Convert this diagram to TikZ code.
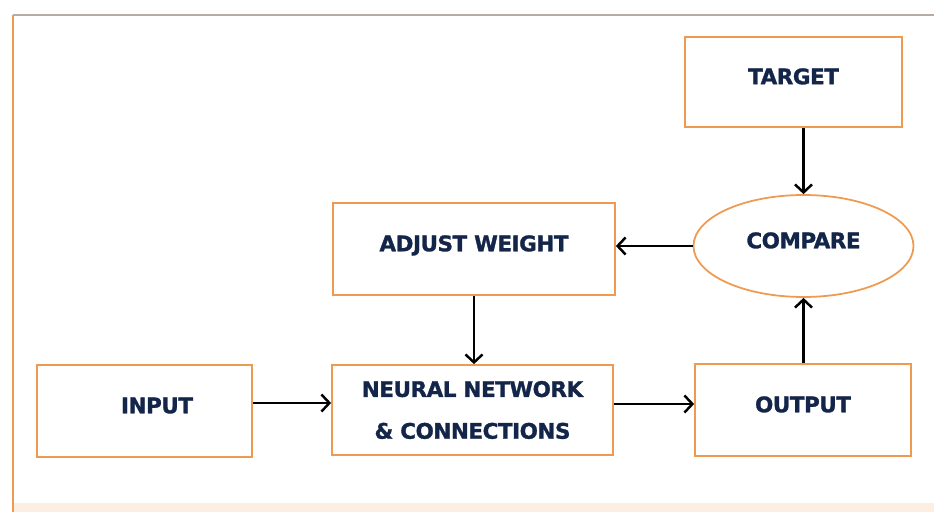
\documentclass[tikz,border=0pt]{standalone}
\usepackage{fontspec}
\setmainfont{DejaVu Sans}
\newfontfamily\boxfont{DejaVu Sans}[BoldFeatures={FakeBold=1.3,LetterSpace=-2}]
\usetikzlibrary{arrows.meta,shapes.geometric}
\definecolor{boxorange}{HTML}{EE9A50}
\definecolor{navytext}{HTML}{13264A}
\definecolor{framegrey}{HTML}{B8ACA2}
\definecolor{framepeach}{HTML}{FCEFE2}

\begin{document}
\begin{tikzpicture}[
    block/.style={rectangle,draw=boxorange,line width=1pt,fill=white,font=\boxfont\bfseries\fontsize{12.2}{14}\selectfont,text=navytext,inner sep=0pt},
    oneline/.style={text height=0.31cm,text depth=0.22cm},
    flow/.style={line width=1.4pt,-{Straight Barb[length=1.6mm,width=3.4mm]}}
    ]
    \useasboundingbox (0,0) rectangle (18.68,10.24);
    % outer frame
    \fill[framepeach] (0.26,0) rectangle (18.68,0.18);
    \draw[framegrey,line width=1.2pt] (0.26,9.94) -- (18.68,9.94);
    \draw[boxorange,line width=1.6pt] (0.26,9.94) -- (0.26,0);

    \node[block,oneline,minimum width=4.34cm,minimum height=1.8cm] (target) at (15.87,8.6) {TARGET};
    \node[block,ellipse,oneline,minimum width=4.4cm,minimum height=2.04cm] (compare) at (16.07,5.32) {COMPARE};
    \node[block,oneline,minimum width=5.64cm,minimum height=1.84cm] (adjust) at (9.48,5.26) {ADJUST WEIGHT};
    \node[block,oneline,minimum width=4.3cm,minimum height=1.84cm] (input) at (2.89,2.02) {\hspace*{0.5cm}INPUT};
    \node[block,align=center,font=\boxfont\bfseries\fontsize{12.2}{23.8}\selectfont,minimum width=5.62cm,minimum height=1.8cm] (network) at (9.45,2.04) {NEURAL NETWORK\\\& CONNECTIONS};
    \node[block,oneline,minimum width=4.32cm,minimum height=1.84cm] (output) at (16.06,2.04) {OUTPUT};

    \draw[flow] ([yshift=0.16cm]input.east) -- ([yshift=0.16cm]input.east -| network.west);
    \draw[flow] ([yshift=0.12cm]network.east) -- ([yshift=0.12cm]network.east -| output.west);
    \draw[flow] (output.north -| compare.south) -- (compare.south);
    \draw[flow] (target.south -| compare.north) -- (compare.north);
    \draw[flow] (compare.west) -- (compare.west -| adjust.east);
    \draw[flow] (adjust.south) -- (adjust.south |- network.north);
\end{tikzpicture}
\end{document}
